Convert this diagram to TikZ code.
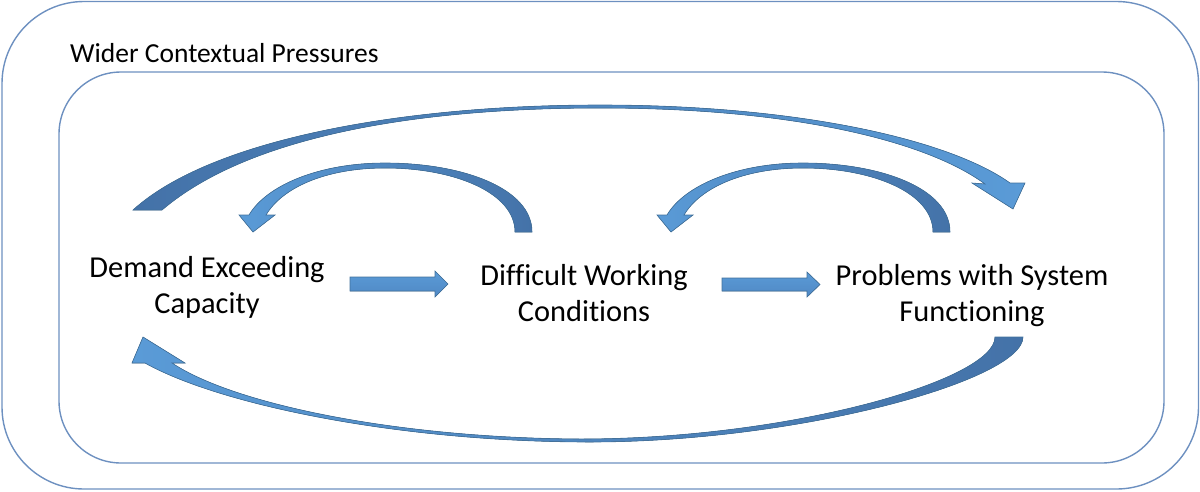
\documentclass[tikz,border=0pt]{standalone}
\usepackage{fontspec}
\setmainfont{Carlito}[Ligatures={NoCommon}]
\begin{document}
\begin{tikzpicture}[x=1pt,y=-1pt,
  frame/.style={draw=boxline, line width=1.4pt},
  lbl/.style={align=center, inner sep=0pt, font=\fontsize{30.4}{36}\selectfont},
  blockarrow/.style={draw=arrEdge, line width=0.6pt, top color=arrLight, bottom color=arrMid},
  curvedarrow/.style={draw=arrEdge, line width=0.6pt}]
\definecolor{boxline}{HTML}{6D90C0}
\definecolor{arrLight}{HTML}{5A9BD7}
\definecolor{arrMid}{HTML}{5088C4}
\definecolor{arrDark}{HTML}{4472A8}
\definecolor{arrEdge}{HTML}{41719C}
\useasboundingbox (0,0) rectangle (1200,491);
% frames
\draw[frame, rounded corners=82pt] (2,1.5) rectangle (1198.5,489);
\draw[frame, rounded corners=62pt] (59,72) rectangle (1164,463);
% labels
\node[lbl, anchor=base west, font=\fontsize{27.5}{32}\selectfont] (title) at (70,62) {Wider Contextual Pressures};
\node[lbl, anchor=base] (dec) at (207,313) {Demand Exceeding\\Capacity};
\node[lbl, anchor=base] (dwc) at (584,321) {Difficult Working\\Conditions};
\node[lbl, anchor=base] (psf) at (972,321) {Problems with System\\Functioning};
% straight block arrows
\filldraw[blockarrow] (350,277) -- (435,277) -- (435,271) -- (448,284) -- (435,297) -- (435,291) -- (350,291) -- cycle;
\filldraw[blockarrow] (722,278) -- (807,278) -- (807,272) -- (820,284.5) -- (807,297) -- (807,291) -- (722,291) -- cycle;
% small curved arrows (Difficult -> Demand, Problems -> Difficult)
\foreach \dx in {0,418}{
\begin{scope}[xshift=\dx pt]
\filldraw[curvedarrow, left color=arrLight, right color=arrDark]
 (532,232) .. controls (532,188) and (462,163) .. (385,163)
 .. controls (318,163) and (266,186) .. (249,215)
 -- (239,215) -- (253,232) -- (275,215) -- (266,215)
 .. controls (282,188) and (325,168) .. (385,168)
 .. controls (455,168) and (515,193) .. (515,232) -- cycle;
\end{scope}}
% big top arrow (Demand -> Problems)
\filldraw[curvedarrow, left color=arrDark, right color=arrLight]
 (133,210) .. controls (210,140) and (400,105) .. (600,105)
 .. controls (800,105) and (950,140) .. (1010,183)
 -- (1025,183) -- (1013,209) -- (972,183) -- (985,184)
 .. controls (925,140) and (790,108) .. (600,108)
 .. controls (420,108) and (250,135) .. (162,210) -- cycle;
% big bottom arrow (Problems -> Demand)
\filldraw[curvedarrow, left color=arrLight, right color=arrDark]
 (1023,337) .. controls (1023,380) and (800,442) .. (590,442)
 .. controls (400,442) and (220,405) .. (145,363)
 -- (132,363) -- (143,337) -- (185,363) -- (172,363)
 .. controls (235,405) and (400,438) .. (580,439)
 .. controls (790,439) and (995,380) .. (995,337) -- cycle;
\end{tikzpicture}
\end{document}
